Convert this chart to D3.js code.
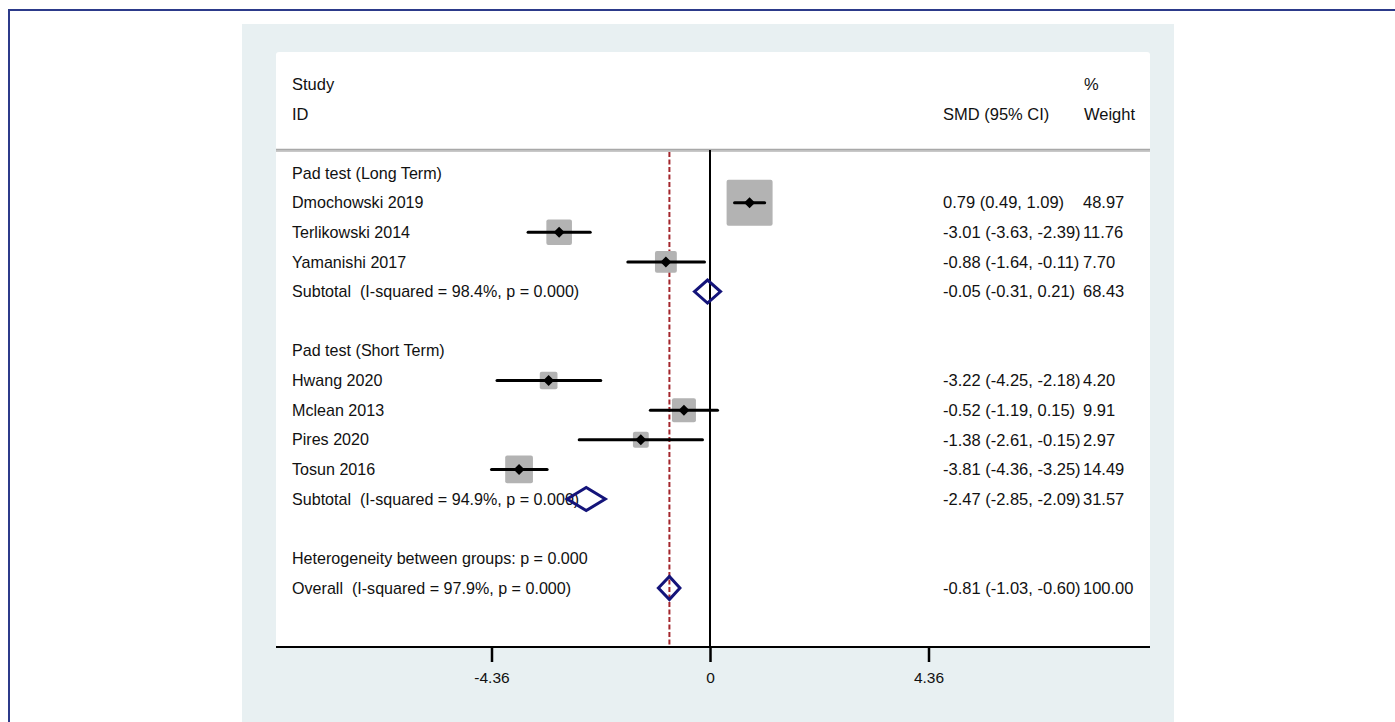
<!DOCTYPE html>
<html>
<head>
<meta charset="utf-8">
<script src="https://cdn.jsdelivr.net/npm/d3@7"></script>
<style>
  html, body { margin: 0; padding: 0; background: #ffffff; }
  svg { display: block; }
  text { font-family: "Liberation Sans", Arial, sans-serif; fill: #111111; white-space: pre; }
</style>
</head>
<body>
<svg id="chart" width="1395" height="722"></svg>
<script>
// Study-level results
const studies   = ["Dmochowski 2019", "Terlikowski 2014", "Yamanishi 2017", "Hwang 2020", "Mclean 2013", "Pires 2020", "Tosun 2016"];
const studyGrp  = [0, 0, 0, 1, 1, 1, 1];
const smd       = [0.79, -3.01, -0.88, -3.22, -0.52, -1.38, -3.81];
const lower     = [0.49, -3.63, -1.64, -4.25, -1.19, -2.61, -4.36];
const upper     = [1.09, -2.39, -0.11, -2.18, 0.15, -0.15, -3.25];
const weight    = [48.97, 11.76, 7.70, 4.20, 9.91, 2.97, 14.49];

// Subgroups and pooled results
const groups        = ["Pad test (Long Term)", "Pad test (Short Term)"];
const subtotalLabel = ["Subtotal  (I-squared = 98.4%, p = 0.000)", "Subtotal  (I-squared = 94.9%, p = 0.000)"];
const subtotalSmd   = [-0.05, -2.47];
const subtotalLower = [-0.31, -2.85];
const subtotalUpper = [0.21, -2.09];
const subtotalW     = [68.43, 31.57];

const heterogeneityLabel = "Heterogeneity between groups: p = 0.000";
const overallLabel = "Overall  (I-squared = 97.9%, p = 0.000)";
const overallSmd = -0.81, overallLower = -1.03, overallUpper = -0.60, overallW = 100.00;

// Axis ticks
const tickValues = [-4.36, 0, 4.36];
const tickLabels = ["-4.36", "0", "4.36"];

// ---- build the row list ----
const rows = [];
groups.forEach((g, gi) => {
  rows.push({ type: "group", label: g });
  studies.forEach((s, i) => {
    if (studyGrp[i] === gi) rows.push({ type: "study", label: s, est: smd[i], lo: lower[i], hi: upper[i], w: weight[i] });
  });
  rows.push({ type: "subtotal", label: subtotalLabel[gi], est: subtotalSmd[gi], lo: subtotalLower[gi], hi: subtotalUpper[gi], w: subtotalW[gi] });
  rows.push({ type: "blank" });
});
rows.push({ type: "het", label: heterogeneityLabel });
rows.push({ type: "overall", label: overallLabel, est: overallSmd, lo: overallLower, hi: overallUpper, w: overallW });

const svg = d3.select("#chart");
// two decimals with a plain hyphen-minus
const f2 = v => v.toFixed(2);

// outer frame and panels
svg.append("rect").attr("x", 9).attr("y", 10).attr("width", 1400).attr("height", 730)
  .attr("fill", "none").attr("stroke", "#2c3a8a").attr("stroke-width", 2);
svg.append("rect").attr("x", 242).attr("y", 24).attr("width", 932).attr("height", 710).attr("fill", "#e8f0f2");
const plotL = 276, plotR = 1150, plotT = 52, axisY = 647;
svg.append("rect").attr("x", plotL).attr("y", plotT).attr("width", plotR - plotL).attr("height", axisY - plotT)
  .attr("rx", 3).attr("fill", "#ffffff");

// scales
const x = d3.scaleLinear().domain([-4.36, 4.36]).range([491.5, 928.5]);
const y = d3.scalePoint().domain(d3.range(rows.length)).range([173, 588]);
const boxSide = d3.scalePow().exponent(0.5).domain([0, d3.max(weight)]).range([6, 46]);

const labelX = 292, ciX = 943, wX = 1083, fontSize = 16.5, labelSize = 16.1;

// header
const hdr = svg.append("g").attr("font-size", fontSize);
hdr.append("text").attr("x", labelX).attr("y", 84).attr("dy", "0.35em").text("Study");
hdr.append("text").attr("x", labelX).attr("y", 114).attr("dy", "0.35em").text("ID");
hdr.append("text").attr("x", ciX).attr("y", 114).attr("dy", "0.35em").text("SMD (95% CI)");
hdr.append("text").attr("x", wX + 1).attr("y", 84).attr("dy", "0.35em").text("%");
hdr.append("text").attr("x", wX + 1).attr("y", 114).attr("dy", "0.35em").text("Weight");
svg.append("line").attr("x1", plotL).attr("x2", plotR).attr("y1", 150.5).attr("y2", 150.5)
  .attr("stroke", "#c8c8c8").attr("stroke-width", 3);
svg.append("line").attr("x1", plotL).attr("x2", plotR).attr("y1", 149.5).attr("y2", 149.5)
  .attr("stroke", "#a8a8a8").attr("stroke-width", 1.5);

// reference lines
svg.append("line").attr("x1", x(0)).attr("x2", x(0)).attr("y1", 150).attr("y2", axisY)
  .attr("stroke", "#000").attr("stroke-width", 2);
svg.append("line").attr("x1", x(overallSmd)).attr("x2", x(overallSmd)).attr("y1", 152).attr("y2", axisY)
  .attr("stroke", "#a3262c").attr("stroke-width", 2).attr("stroke-dasharray", "5,2.5");

// row texts
const txt = svg.append("g").attr("font-size", fontSize);
rows.forEach((r, i) => {
  if (r.type === "blank") return;
  txt.append("text").attr("x", labelX).attr("y", y(i)).attr("dy", "0.35em")
    .attr("font-size", labelSize).text(r.label);
  if (r.est !== undefined) {
    txt.append("text").attr("x", ciX).attr("y", y(i)).attr("dy", "0.35em")
      .text(`${f2(r.est)} (${f2(r.lo)}, ${f2(r.hi)})`);
    txt.append("text").attr("x", wX).attr("y", y(i)).attr("dy", "0.35em").text(f2(r.w));
  }
});

// study markers: weighted boxes, CI lines, point estimates
const studyRows = rows.map((r, i) => ({ ...r, i })).filter(r => r.type === "study");
const marks = svg.append("g");
marks.selectAll("rect.box").data(studyRows).join("rect")
  .attr("class", "box")
  .attr("x", d => x(d.est) - boxSide(d.w) / 2)
  .attr("y", d => y(d.i) - boxSide(d.w) / 2)
  .attr("width", d => boxSide(d.w))
  .attr("height", d => boxSide(d.w))
  .attr("rx", 2)
  .attr("fill", "#b3b3b3");
marks.selectAll("line.ci").data(studyRows).join("line")
  .attr("class", "ci")
  .attr("x1", d => x(d.lo)).attr("x2", d => x(d.hi))
  .attr("y1", d => y(d.i)).attr("y2", d => y(d.i))
  .attr("stroke", "#000").attr("stroke-width", 3).attr("stroke-linecap", "round");
marks.selectAll("path.pt").data(studyRows).join("path")
  .attr("class", "pt")
  .attr("d", d => {
    const cx = x(d.est), cy = y(d.i), h = 5.5;
    return `M${cx - h},${cy}L${cx},${cy - h}L${cx + h},${cy}L${cx},${cy + h}Z`;
  })
  .attr("fill", "#000");

// pooled diamonds
const pooled = rows.map((r, i) => ({ ...r, i })).filter(r => r.type === "subtotal" || r.type === "overall");
marks.selectAll("path.dia").data(pooled).join("path")
  .attr("class", "dia")
  .attr("d", d => {
    const cy = y(d.i), h = 11.5;
    return `M${x(d.lo)},${cy}L${x(d.est)},${cy - h}L${x(d.hi)},${cy}L${x(d.est)},${cy + h}Z`;
  })
  .attr("fill", "none").attr("stroke", "#14147a").attr("stroke-width", 3).attr("stroke-linejoin", "miter");

// x axis
svg.append("line").attr("x1", plotL).attr("x2", plotR).attr("y1", axisY).attr("y2", axisY)
  .attr("stroke", "#000").attr("stroke-width", 2);
const axis = svg.append("g").attr("transform", `translate(0,${axisY})`)
  .call(d3.axisBottom(x).tickValues(tickValues).tickSize(15).tickPadding(10)
    .tickFormat((d, i) => tickLabels[i]));
axis.select(".domain").remove();
axis.selectAll(".tick line").attr("stroke", "#000").attr("stroke-width", 2.5);
axis.selectAll(".tick text").attr("font-size", 15.5)
  .attr("font-family", "'Liberation Sans', Arial, sans-serif").attr("fill", "#111111");
</script>
</body>
</html>
